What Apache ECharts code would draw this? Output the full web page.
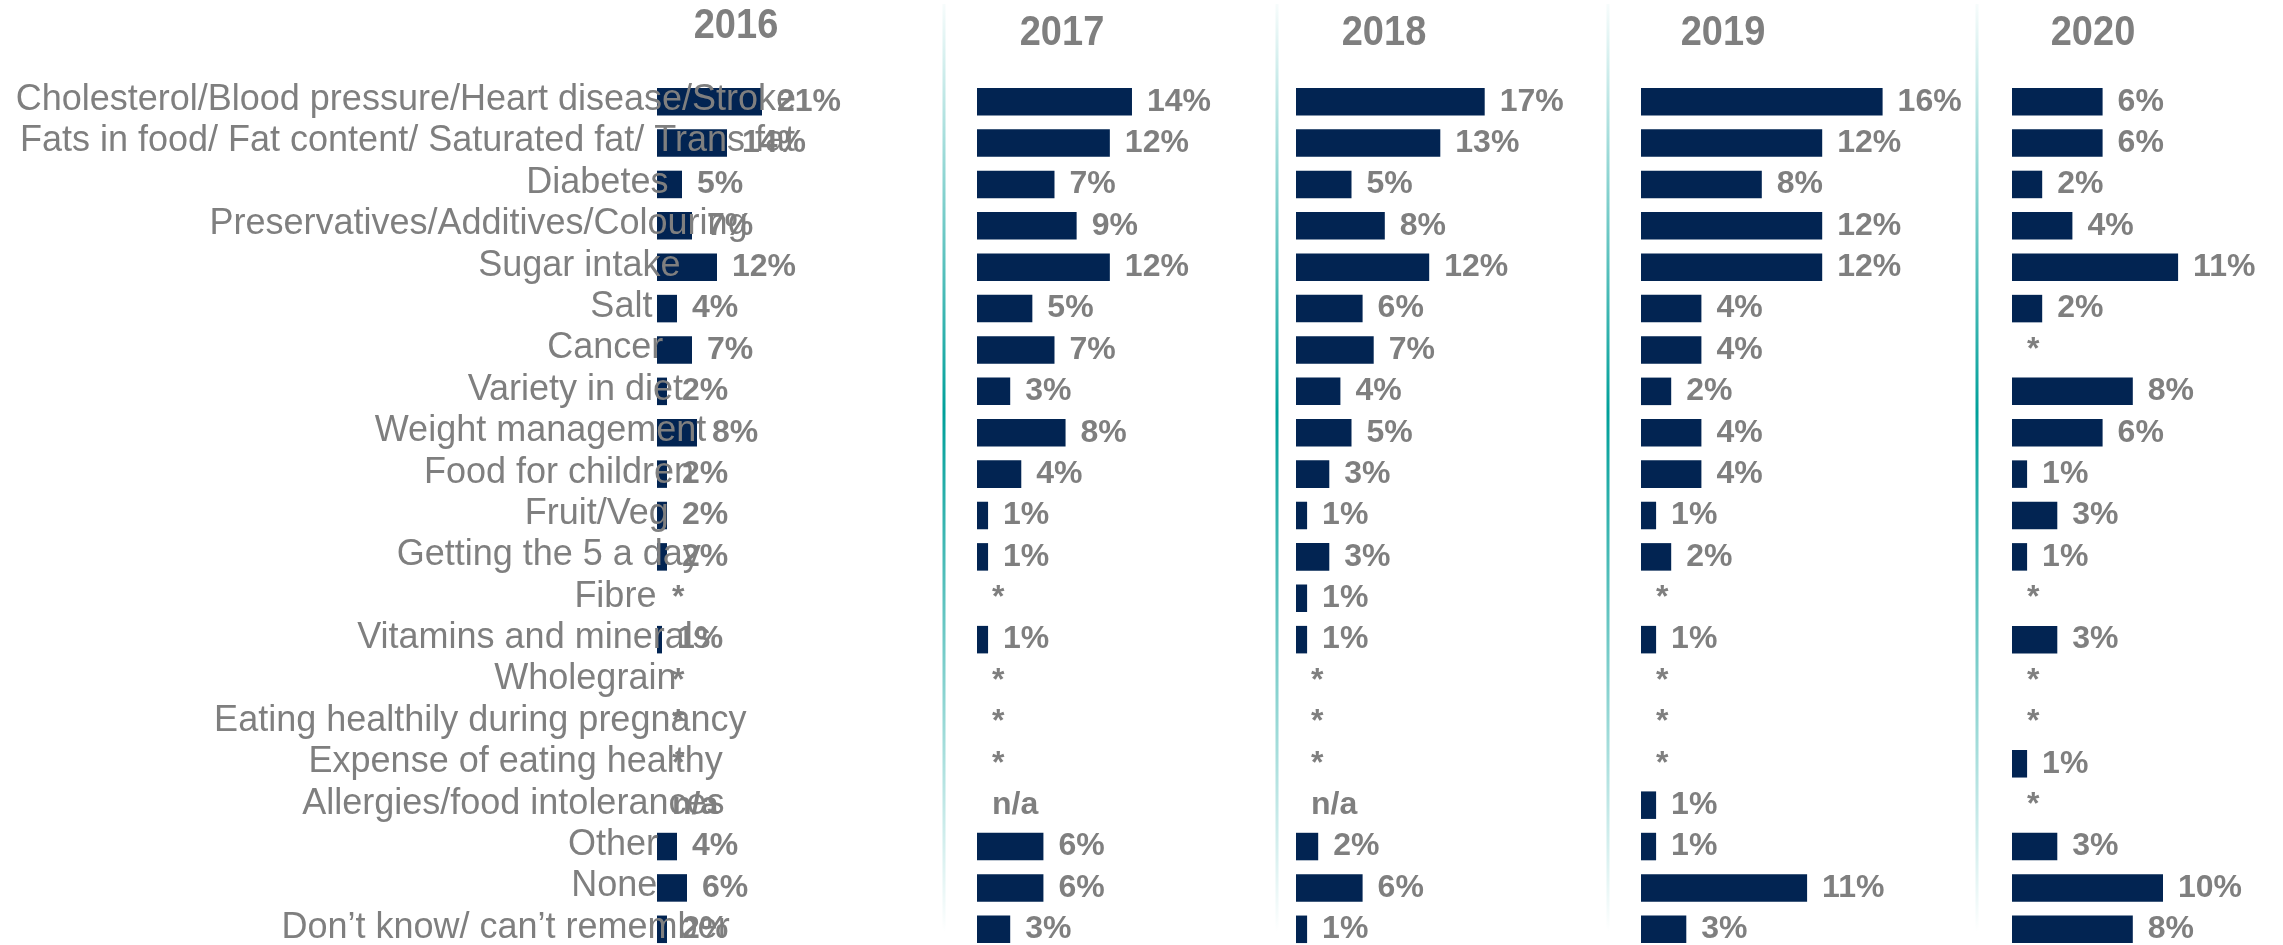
<!DOCTYPE html>
<html>
<head>
<meta charset="utf-8">
<script src="https://cdn.jsdelivr.net/npm/echarts@6/dist/echarts.min.js"></script>
<style>
  html, body { margin: 0; padding: 0; background: #ffffff; }
  #chart { width: 2283px; height: 945px; }
</style>
</head>
<body>
<div id="chart"></div>
<script>
// Topics mentioned, one row each
const categories = [
  'Cholesterol/Blood pressure/Heart disease/Stroke',
  'Fats in food/ Fat content/ Saturated fat/ Trans fat',
  'Diabetes',
  'Preservatives/Additives/Colouring',
  'Sugar intake',
  'Salt',
  'Cancer',
  'Variety in diet',
  'Weight management',
  'Food for children',
  'Fruit/Veg',
  'Getting the 5 a day',
  'Fibre',
  'Vitamins and minerals',
  'Wholegrain',
  'Eating healthily during pregnancy',
  'Expense of eating healthy',
  'Allergies/food intolerances',
  'Other',
  'None',
  'Don\u2019t know/ can\u2019t remember'
];

const years = ['2016', '2017', '2018', '2019', '2020'];

// Percentages per year; '*' = below 0.5%, 'n/a' = not asked that year
const values2016 = [21, 14, 5, 7, 12, 4, 7, 2, 8, 2, 2, 2, '*', 1, '*', '*', '*', 'n/a', 4, 6, 2];
const values2017 = [14, 12, 7, 9, 12, 5, 7, 3, 8, 4, 1, 1, '*', 1, '*', '*', '*', 'n/a', 6, 6, 3];
const values2018 = [17, 13, 5, 8, 12, 6, 7, 4, 5, 3, 1, 3, 1, 1, '*', '*', '*', 'n/a', 2, 6, 1];
const values2019 = [16, 12, 8, 12, 12, 4, 4, 2, 4, 4, 1, 2, '*', 1, '*', '*', '*', 1, 1, 11, 3];
const values2020 = [6, 6, 2, 4, 11, 2, '*', 8, 6, 1, 3, 1, '*', 3, '*', '*', 1, '*', 3, 10, 8];

const yearValues = [values2016, values2017, values2018, values2019, values2020];

// ---- styling & layout ----
const NAVY = '#022452';
const GREY = '#7f7f7f';
const FONT = '"Liberation Sans", Arial, sans-serif';
const CAT_SIZE = 36;

// each panel: bar origin, px per percentage point, axis max, heading centre
const panels = [
  { left: 657,  pxPerPct: 5.0,   max: 30, titleX: 736,  titleY: 26 },
  { left: 977,  pxPerPct: 11.07, max: 20, titleX: 1062, titleY: 33 },
  { left: 1296, pxPerPct: 11.1,  max: 20, titleX: 1384, titleY: 33 },
  { left: 1641, pxPerPct: 15.1,  max: 20, titleX: 1723, titleY: 33 },
  { left: 2012, pxPerPct: 15.1,  max: 15, titleX: 2093, titleY: 33 }
];
const dividerX = [944, 1277, 1608, 1977];
const gridTop = 81;
const gridHeight = 869;

// Category labels hang from an anchor: left edge = anchor - 0.8 * text width
const LABEL_ANCHOR = 640;
const measureCtx = document.createElement('canvas').getContext('2d');
measureCtx.font = CAT_SIZE + 'px "Liberation Sans", Arial, sans-serif';
const labelRich = { t: { fontSize: CAT_SIZE, fontFamily: FONT, color: GREY } };
categories.forEach((name, i) => {
  const w = measureCtx.measureText(name).width;
  labelRich['g' + i] = { width: Math.max(0, LABEL_ANCHOR - 0.8 * w), fontSize: CAT_SIZE };
});

const grids = [], xAxes = [], yAxes = [], series = [];

panels.forEach((p, i) => {
  grids.push({
    left: p.left,
    top: gridTop,
    width: p.max * p.pxPerPct,
    height: gridHeight,
    containLabel: false,
    outerBoundsMode: 'none'
  });
  xAxes.push({
    gridIndex: i, type: 'value', min: 0, max: p.max,
    show: false, splitLine: { show: false }
  });
  const yAxis = {
    gridIndex: i, type: 'category', data: categories, inverse: true,
    axisLine: { show: false }, axisTick: { show: false }, splitLine: { show: false },
    axisLabel: { show: false }
  };
  if (i === 0) {
    yAxis.z = 5;
    yAxis.axisLabel = {
      show: true,
      interval: 0,
      align: 'left',
      margin: p.left,
      padding: [0, 0, 3, 0],
      fontSize: CAT_SIZE,
      fontFamily: FONT,
      color: GREY,
      formatter: (value, idx) => '{g' + idx + '| }{t|' + value + '}',
      rich: labelRich
    };
  }
  yAxes.push(yAxis);

  const raw = yearValues[i];
  series.push({
    name: years[i],
    type: 'bar',
    xAxisIndex: i,
    yAxisIndex: i,
    barCategoryGap: '33.5%',
    itemStyle: { color: NAVY },
    label: {
      show: true,
      position: 'right',
      distance: 15,
      fontSize: 32,
      fontWeight: 'bold',
      fontFamily: FONT,
      color: GREY,
      formatter: (prm) => {
        const r = raw[prm.dataIndex];
        return typeof r === 'number' ? r + '%' : r;
      }
    },
    data: raw.map(r => (typeof r === 'number' ? r : 0))
  });
});

// year headings and panel dividers
const graphics = [];
panels.forEach((p, i) => {
  graphics.push({
    type: 'text',
    x: p.titleX,
    y: p.titleY,
    scaleY: 1.12,
    style: {
      text: years[i],
      fontSize: 38,
      fontWeight: 'bold',
      fontFamily: FONT,
      fill: GREY,
      align: 'center',
      verticalAlign: 'middle'
    }
  });
});
dividerX.forEach(x => {
  graphics.push({
    type: 'rect',
    z: -1,
    shape: { x: x - 1.5, y: 4, width: 3, height: 928 },
    style: {
      fill: new echarts.graphic.LinearGradient(0, 0, 0, 1, [
        { offset: 0, color: 'rgba(0,160,154,0.03)' },
        { offset: 0.44, color: 'rgba(0,160,154,1)' },
        { offset: 1, color: 'rgba(0,160,154,0)' }
      ])
    }
  });
});

const chart = echarts.init(document.getElementById('chart'), null, { renderer: 'canvas' });
chart.setOption({
  animation: false,
  backgroundColor: '#ffffff',
  grid: grids,
  xAxis: xAxes,
  yAxis: yAxes,
  series: series,
  graphic: graphics
});
</script>
</body>
</html>
